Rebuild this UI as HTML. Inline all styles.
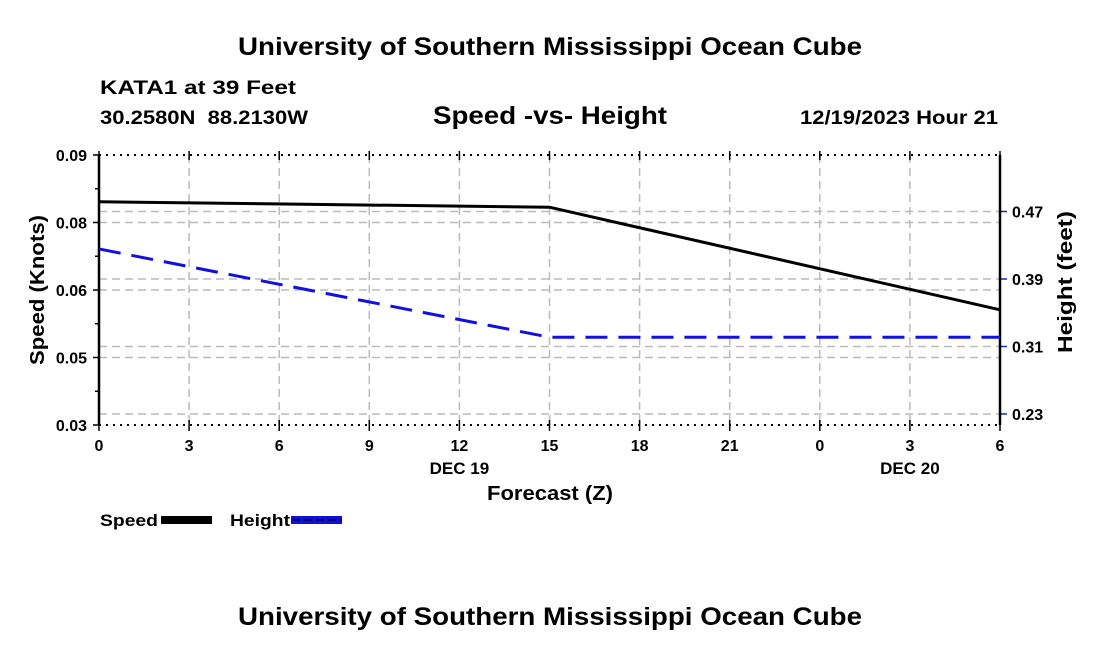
<!DOCTYPE html>
<html><head><meta charset="utf-8"><style>
html,body{margin:0;padding:0;background:#fff;}
svg{display:block;font-family:"Liberation Sans",Arial,sans-serif;font-weight:bold;}
</style></head><body>
<svg id="chart" width="1100" height="650" viewBox="0 0 1100 650">
<text x="238" y="55" font-size="25" textLength="624" lengthAdjust="spacingAndGlyphs">University of Southern Mississippi Ocean Cube</text>
<text x="100" y="94" font-size="19" textLength="196" lengthAdjust="spacingAndGlyphs">KATA1 at 39 Feet</text>
<text x="100" y="124" font-size="19" textLength="208" lengthAdjust="spacingAndGlyphs" xml:space="preserve">30.2580N  88.2130W</text>
<text x="433" y="124" font-size="25" textLength="234" lengthAdjust="spacingAndGlyphs">Speed -vs- Height</text>
<text x="800" y="124" font-size="19" textLength="198" lengthAdjust="spacingAndGlyphs">12/19/2023 Hour 21</text>
<g id="grid"></g>
<g id="axes"></g>
<g id="series"></g>
<text transform="translate(44,365) rotate(-90)" font-size="20" textLength="150" lengthAdjust="spacingAndGlyphs">Speed (Knots)</text>
<text transform="translate(1072,353) rotate(-90)" font-size="20" textLength="142" lengthAdjust="spacingAndGlyphs">Height (feet)</text>
<text x="487" y="500" font-size="20" textLength="126" lengthAdjust="spacingAndGlyphs">Forecast (Z)</text>
<g>
<text x="100" y="526" font-size="17" textLength="58" lengthAdjust="spacingAndGlyphs">Speed</text>
<rect x="161" y="516" width="51" height="8" fill="#000"/>
<text x="230" y="526" font-size="17" textLength="60" lengthAdjust="spacingAndGlyphs">Height</text>
<rect x="291" y="516" width="51" height="8" fill="#1010d0"/>
<line x1="292" y1="520" x2="342" y2="520" stroke="#000080" stroke-width="2" stroke-dasharray="8,4"/>
</g>
<text x="238" y="625" font-size="25" textLength="624" lengthAdjust="spacingAndGlyphs">University of Southern Mississippi Ocean Cube</text>
</svg>
<script>
const hours = [0, 15, 30];
const speedValues = [0.0796, 0.0784, 0.0556];
const heightValues = [0.4256, 0.321, 0.321];
const xTickLabels = ["0","3","6","9","12","15","18","21","0","3","6"];
const leftTickValues = [0.03, 0.045, 0.06, 0.075, 0.09];
const leftTickLabels = ["0.03","0.05","0.06","0.08","0.09"];
const rightTickValues = [0.23, 0.31, 0.39, 0.47];
const rightTickLabels = ["0.23","0.31","0.39","0.47"];
const dateLabels = [{h:12,t:"DEC 19"},{h:27,t:"DEC 20"}];

const NS="http://www.w3.org/2000/svg";
const X0=99,X1=1000,Y0=155,Y1=425;
const xS=h=>X0+(h-0)/30*(X1-X0);
const yL=v=>Y1-(v-0.03)/0.06*(Y1-Y0);
const yR=v=>414-(v-0.23)/0.08*67.5;
function mk(tag,attrs,parent,txt){const e=document.createElementNS(NS,tag);for(const k in attrs)e.setAttribute(k,attrs[k]);if(txt!==undefined)e.textContent=txt;parent.appendChild(e);return e;}
const grid=document.getElementById('grid'),axes=document.getElementById('axes'),series=document.getElementById('series');
const gs={stroke:"#bbb","stroke-width":1.5,"stroke-dasharray":"8,5"};
xTickLabels.forEach((t,i)=>{const x=xS(i*3);
 if(i>0&&i<xTickLabels.length-1){const l=mk('line',Object.assign({x1:x,x2:x,y1:Y0,y2:Y1},gs),grid);}
 const tk=mk('line',{x1:x,x2:x,y1:Y1-5,y2:Y1+6,stroke:"#000","stroke-width":1.5},axes);
 
 const tp=mk('line',{x1:x,x2:x,y1:Y0-4,y2:Y0+5,stroke:"#000","stroke-width":1.5},axes);
 
 const lb=mk('text',{x:x,y:451,"font-size":16,"text-anchor":"middle"},axes,t);
 
});
dateLabels.forEach(d=>{const e=mk('text',{x:xS(d.h),y:474,"font-size":17,"text-anchor":"middle"},axes,d.t);
 });
leftTickValues.forEach((v,i)=>{const y=yL(v);
 if(i>0&&i<leftTickValues.length-1){const l=mk('line',Object.assign({x1:X0,x2:X1,y1:y,y2:y},gs),grid);}
 const tk=mk('line',{x1:X0-6,x2:X0,y1:y,y2:y,stroke:"#000","stroke-width":1.5},axes);
 
 const lb=mk('text',{x:87,y:y+6,"font-size":16,"text-anchor":"end"},axes,leftTickLabels[i]);
 
 if(i<leftTickValues.length-1){const m=mk('line',{x1:X0-4,x2:X0,y1:yL(v+0.0075),y2:yL(v+0.0075),stroke:"#000","stroke-width":1.5},axes);
 }
});
rightTickValues.forEach((v,i)=>{const y=yR(v);
 const l=mk('line',Object.assign({x1:X0,x2:X1,y1:y,y2:y},gs),grid);
 const tk=mk('line',{x1:X1,x2:X1+7,y1:y,y2:y,stroke:"#2020c0","stroke-width":1.5},axes);
 
 const lb=mk('text',{x:1012,y:y+6,"font-size":16},axes,rightTickLabels[i]);
 
});
[[X0,Y0,X1,Y0,'top-border'],[X0,Y1,X1,Y1,'bottom-border']].forEach(a=>{
 const l=mk('line',{x1:a[0],y1:a[1],x2:a[2],y2:a[3],stroke:"#000","stroke-width":2,"stroke-dasharray":"2,5"},axes);
 });
[[X0,'left-axis-line'],[X1,'right-axis-line']].forEach(a=>{
 const l=mk('line',{x1:a[0],y1:Y0,x2:a[0],y2:Y1,stroke:"#000","stroke-width":2.5},axes);
 });
const sp=mk('polyline',{points:hours.map((h,i)=>xS(h)+","+yL(speedValues[i])).join(" "),fill:"none",stroke:"#000","stroke-width":3},series);

const ht=mk('polyline',{points:hours.map((h,i)=>xS(h)+","+yR(heightValues[i])).join(" "),fill:"none",stroke:"#1010e0","stroke-width":3,"stroke-dasharray":"22,11"},series);

</script>
</body></html>
